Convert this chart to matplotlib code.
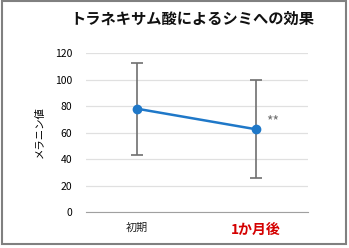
import matplotlib
matplotlib.use("Agg")
import matplotlib.pyplot as plt
from matplotlib.patches import Rectangle

plt.rcParams['font.family'] = ['Noto Sans CJK JP', 'DejaVu Sans']

categories = ['初期', '1か月後']
means = [78, 62.5]
err_low = [35, 37]
err_high = [34.5, 37.5]
yticks = [0, 20, 40, 60, 80, 100, 120]
title = 'トラネキサム酸によるシミへの効果'
ylabel = 'メラニン値'

fig = plt.figure(figsize=(3.49, 2.48), dpi=100)
ax = fig.add_axes([0.246, 0.145, 0.637, 0.641])

x = list(range(len(categories)))
ax.errorbar(x, means, yerr=[err_low, err_high], fmt='none', ecolor='#707070',
            elinewidth=1.2, capsize=4, capthick=1.2, zorder=2)
ax.plot(x, means, color='#1f78c8', lw=1.8, marker='o', markersize=6, zorder=3)
ax.text(x[1] + 0.09, means[1] + 6, '**', color='#707070', fontsize=10,
        ha='left', va='center')

ax.set_xlim(-0.43, 1.44)
ax.set_ylim(0, 120)
ax.set_yticks(yticks)
ax.set_yticklabels([str(v) for v in yticks], fontsize=7.5)
ax.set_xticks(x)
ax.set_xticklabels(categories)
labels = ax.get_xticklabels()
labels[0].set_fontsize(8)
labels[0].set_color('#222222')
labels[1].set_fontsize(10)
labels[1].set_color('#d40000')
labels[1].set_fontweight('bold')
ax.tick_params(length=0, pad=10, axis='y')
ax.tick_params(length=0, pad=8, axis='x')
ax.grid(axis='y', color='#e0e0e0', lw=0.9)
for s in ['top', 'right', 'left']:
    ax.spines[s].set_visible(False)
ax.spines['bottom'].set_color('#a0a0a0')
ax.set_axisbelow(True)
ax.set_ylabel(ylabel, fontsize=7.5, labelpad=7)

fig.text(0.55, 0.925, title, fontsize=11, fontweight='bold',
         ha='center', va='center', color='#111111')

fig.patches.append(Rectangle((0.006, 0.016), 0.986, 0.978, transform=fig.transFigure,
                             fill=False, edgecolor='#808080', lw=1.5))

fig.savefig('out.png', dpi=100)
